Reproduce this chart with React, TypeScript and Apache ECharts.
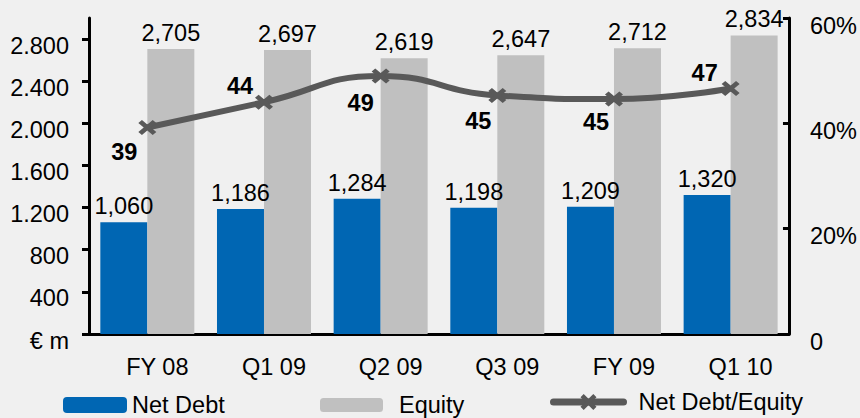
import React, { useEffect, useRef } from 'react';
import * as echarts from 'echarts';

const categories = ['FY 08', 'Q1 09', 'Q2 09', 'Q3 09', 'FY 09', 'Q1 10'];
const netDebt = [1060, 1186, 1284, 1198, 1209, 1320];
const equity = [2705, 2697, 2619, 2647, 2712, 2834];
const netDebtEquity = [39.2, 44.0, 49.0, 45.3, 44.6, 46.6];
const leftTicks = [0, 400, 800, 1200, 1600, 2000, 2400, 2800];
const rightTicks = [0, 20, 40, 60];
const ratioLabelOffsets = [[-23, 24], [-24, -16], [-20, 27], [-19, 26], [-18, 23], [-26, -16]];

const FONT = '"Liberation Sans", Arial, sans-serif';
const FS = 23.5;
const BLUE = '#0066b3';
const GRAY = '#c0c0c0';
const LINE = '#595959';
const XPATH = 'path://M0,2 L2,0 L5,3 L8,0 L10,2 L7,5 L10,8 L8,10 L5,7 L2,10 L0,8 L3,5 Z';

const fmtThousandsDot = (v: number) => String(v).replace(/\B(?=(\d{3})+(?!\d))/g, '.');
const fmtThousandsComma = (v: number) => String(v).replace(/\B(?=(\d{3})+(?!\d))/g, ',');

export default function App() {
  const ref = useRef<HTMLDivElement>(null);
  useEffect(() => {
    if (!ref.current) return;
    const chart = echarts.init(ref.current, undefined, { renderer: 'svg' });
    chart.setOption({
      animation: false,
      backgroundColor: '#f0f0f0',
      textStyle: { fontFamily: FONT },
      grid: { left: 89, right: 71, top: 18, bottom: 84 },
      legend: [
        {
          data: ['Net Debt'], left: 63, top: 393, padding: 0, itemWidth: 64, itemHeight: 16,
          textStyle: { fontSize: FS, color: '#000', fontFamily: FONT },
        },
        {
          data: ['Equity'], left: 320, top: 393, padding: 0, itemWidth: 63, itemHeight: 14,
          textStyle: { fontSize: FS, color: '#000', fontFamily: FONT, padding: [0, 0, 0, 11] },
        },
        {
          data: ['Net Debt/Equity'], left: 550, top: 390, padding: 0, itemWidth: 70, itemHeight: 20,
          lineStyle: { width: 7, cap: 'round', color: LINE },
          textStyle: { fontSize: FS, color: '#000', fontFamily: FONT, padding: [0, 0, 0, 10] },
        },
      ],
      xAxis: {
        type: 'category',
        data: categories,
        axisLine: { lineStyle: { color: '#000', width: 3 } },
        axisTick: { show: false },
        axisLabel: {
          interval: 0, hideOverlap: false,
          fontSize: FS, color: '#000', margin: 21, fontFamily: FONT,
          formatter: (v: string) => '{c|' + v + '}',
          rich: { c: { fontSize: FS, color: '#000', fontFamily: FONT, padding: [0, 0, 0, 20] } },
        },
      },
      yAxis: [
        {
          type: 'value', min: 0, max: 3000, interval: 400, position: 'left',
          splitLine: { show: false },
          axisLine: { show: true, lineStyle: { color: '#000', width: 3 } },
          axisTick: { show: true, length: 7, lineStyle: { color: '#000', width: 3 }, customValues: leftTicks },
          axisLabel: {
            customValues: leftTicks,
            fontSize: FS, color: '#000', margin: 20, fontFamily: FONT,
            verticalAlign: 'top', lineHeight: 13,
            formatter: (v: number) => (v === 0 ? '€ m' : fmtThousandsDot(v)),
          },
        },
        {
          type: 'value', min: 0, max: 60, interval: 20, position: 'right',
          splitLine: { show: false },
          axisLine: { show: true, lineStyle: { color: '#000', width: 3 } },
          axisTick: { show: true, inside: true, length: 6, lineStyle: { color: '#000', width: 3 }, customValues: rightTicks },
          axisLabel: {
            customValues: rightTicks,
            fontSize: FS, color: '#000', margin: 21, fontFamily: FONT,
            verticalAlign: 'top', lineHeight: 15,
            formatter: (v: number) => (v === 0 ? '0' : v + '%'),
          },
        },
      ],
      series: [
        {
          name: 'Net Debt', type: 'bar', data: netDebt, barWidth: 47, barGap: '0%',
          itemStyle: { color: BLUE },
          label: {
            show: true, position: 'top', distance: 4, fontSize: FS, color: '#000', fontFamily: FONT,
            formatter: (p: any) => fmtThousandsComma(p.value),
          },
        },
        {
          name: 'Equity', type: 'bar', data: equity, barWidth: 47, barGap: '0%',
          itemStyle: { color: GRAY },
          label: {
            show: true, position: 'top', distance: 4, fontSize: FS, color: '#000', fontFamily: FONT,
            formatter: (p: any) => fmtThousandsComma(p.value),
          },
        },
        {
          name: 'Net Debt/Equity', type: 'line', yAxisIndex: 1, smooth: true,
          data: netDebtEquity.map((v, i) => ({ value: v, label: { offset: ratioLabelOffsets[i] } })),
          symbol: XPATH, symbolSize: [18, 15],
          lineStyle: { color: LINE, width: 6 },
          itemStyle: { color: LINE },
          label: {
            show: true, position: 'inside', fontSize: FS, fontWeight: 'bold', color: '#000', fontFamily: FONT,
            formatter: (p: any) => String(Math.round(p.value)),
          },
          z: 5,
        },
      ],
    });
    return () => chart.dispose();
  }, []);
  return <div ref={ref} style={{ position: 'fixed', left: 0, top: 0, width: 860, height: 418 }} />;
}
